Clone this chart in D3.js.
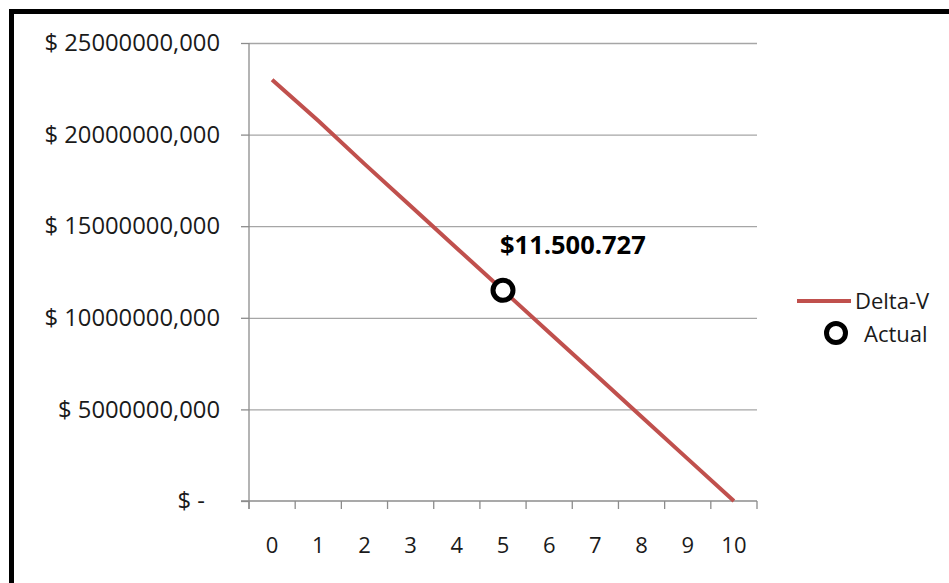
<!DOCTYPE html>
<html>
<head>
<meta charset="utf-8">
<script src="https://cdn.jsdelivr.net/npm/d3@7"></script>
<style>
  html, body { margin: 0; padding: 0; background: #fff; }
  svg { display: block; }
  text { font-family: "Open Sans", "Liberation Sans", sans-serif; fill: #1a1a1a; }
</style>
</head>
<body>
<svg id="chart" width="949" height="583"></svg>
<script>
// Delta-V curve over periods 0..10
const periods = ["0", "1", "2", "3", "4", "5", "6", "7", "8", "9", "10"];
const deltaV = [23000000, 20750000, 18400000, 16100000, 13800000, 11500727, 9200000, 6900000, 4600000, 2300000, 0];

// Actual position
const actualPeriod = "5";
const actualValue = 11500727;

// Y axis ticks
const yTicks = [0, 5000000, 10000000, 15000000, 20000000, 25000000];

// Legend entries
const legendLine = "Delta-V";
const legendPoint = "Actual";

const svg = d3.select("#chart");
const W = 949, H = 583;

svg.append("rect").attr("width", W).attr("height", H).attr("fill", "#fff");

// Chart frame (runs off the right and bottom edges)
svg.append("rect")
  .attr("x", 11.5).attr("y", 11.5)
  .attr("width", W + 20).attr("height", H + 20)
  .attr("fill", "none").attr("stroke", "#000").attr("stroke-width", 5);

const plot = { left: 249, right: 757, top: 43, bottom: 501 };

const x = d3.scaleBand().domain(periods).range([plot.left, plot.right]).padding(0);
const y = d3.scaleLinear().domain([0, 25000000]).range([plot.bottom, plot.top]);

const eu = d3.formatLocale({ decimal: ",", thousands: ".", grouping: [3], currency: ["$", ""] });
const fmtLabel = eu.format("$,.0f");
const fmtTick = v => v === 0 ? "$ -" : "$ " + d3.format(".3f")(v).replace(".", ",");

// Horizontal gridlines
const grid = svg.append("g").attr("transform", `translate(${plot.left},0)`)
  .call(d3.axisLeft(y).tickValues(yTicks.filter(v => v > 0))
    .tickSize(-(plot.right - plot.left)).tickFormat(""));
grid.select(".domain").remove();
grid.selectAll(".tick line").attr("stroke", "#a6a6a6").attr("stroke-width", 1.3);

// Y axis
const yAxis = svg.append("g").attr("transform", `translate(${plot.left},0)`)
  .call(d3.axisLeft(y).tickValues(yTicks).tickSize(8).tickPadding(21).tickFormat(fmtTick));
yAxis.select(".domain").attr("stroke", "#8c8c8c").attr("stroke-width", 1.3)
  .attr("d", `M0,${plot.top}V${plot.bottom + 8}`);
yAxis.selectAll(".tick line").attr("stroke", "#8c8c8c").attr("stroke-width", 1.3);
yAxis.selectAll(".tick text")
  .attr("font-size", 23.8)
  .attr("x", d => d === 0 ? -44 : -29)
  .style("font-family", "'Open Sans', sans-serif");

// X axis baseline
svg.append("line")
  .attr("x1", plot.left - 8).attr("x2", plot.right)
  .attr("y1", y(0)).attr("y2", y(0))
  .attr("stroke", "#8c8c8c").attr("stroke-width", 1.3);

// Category boundary ticks
const bounds = periods.map(p => x(p)).concat([x.range()[1]]);
svg.append("g").selectAll("line").data(bounds).join("line")
  .attr("x1", d => d).attr("x2", d => d)
  .attr("y1", y(0)).attr("y2", y(0) + 8)
  .attr("stroke", "#8c8c8c").attr("stroke-width", 1.3);

// Category labels
svg.append("g").selectAll("text").data(periods).join("text")
  .attr("x", d => x(d) + x.bandwidth() / 2)
  .attr("y", 545)
  .attr("dy", "0.35em")
  .attr("text-anchor", "middle")
  .attr("font-size", 22)
  .text(d => d);

// Delta-V line
const line = d3.line()
  .x((d, i) => x(periods[i]) + x.bandwidth() / 2)
  .y(d => y(d));
svg.append("path")
  .datum(deltaV)
  .attr("d", line)
  .attr("fill", "none")
  .attr("stroke", "#c0504d")
  .attr("stroke-width", 4)
  .attr("stroke-linejoin", "round");

// Actual marker + label
const ax = x(actualPeriod) + x.bandwidth() / 2;
const ay = y(actualValue);
svg.append("circle")
  .attr("cx", ax).attr("cy", ay).attr("r", 10)
  .attr("fill", "#fff").attr("stroke", "#000").attr("stroke-width", 5);
svg.append("text")
  .attr("x", ax - 3).attr("y", ay - 36)
  .attr("font-size", 25.5).attr("font-weight", "bold")
  .style("fill", "#000")
  .text(fmtLabel(actualValue));

// Legend
const lg = svg.append("g");
lg.append("line")
  .attr("x1", 797).attr("x2", 851).attr("y1", 301).attr("y2", 301)
  .attr("stroke", "#c0504d").attr("stroke-width", 4);
lg.append("text")
  .attr("x", 855).attr("y", 301).attr("dy", "0.35em")
  .attr("font-size", 22).text(legendLine);
lg.append("circle")
  .attr("cx", 836).attr("cy", 333).attr("r", 9.5)
  .attr("fill", "#fff").attr("stroke", "#000").attr("stroke-width", 5);
lg.append("text")
  .attr("x", 864).attr("y", 334).attr("dy", "0.35em")
  .attr("font-size", 22).text(legendPoint);
</script>
</body>
</html>
